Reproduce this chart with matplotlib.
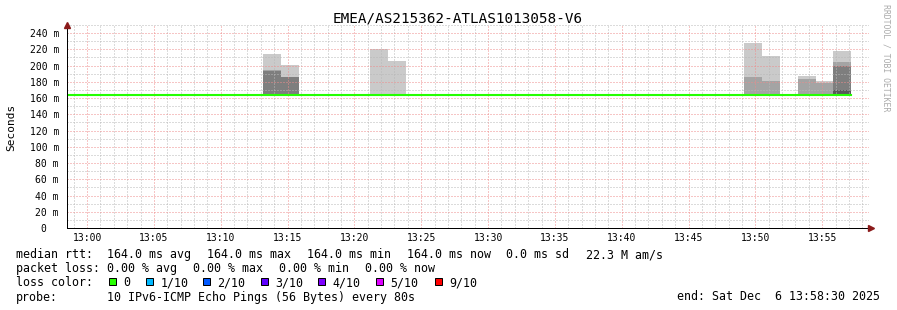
import numpy as np
import matplotlib
matplotlib.use('Agg')
import matplotlib.pyplot as plt
from matplotlib.patches import Rectangle
from matplotlib.ticker import MultipleLocator, FixedLocator, FuncFormatter

W, H = 897, 310
MONO = 'DejaVu Sans Mono'
plt.rcParams['font.family'] = MONO

# time in minutes from 13:00, one bin = 80 s, first bin starts at 12:58:30
step = 80 / 60.0
t0 = -1.5
n_bins = 45

# median rtt per bin (ms), last bin has no data yet
median = [164.0] * 44 + [np.nan]

# bins with smoke and the upper pings (sorted) of the 10 sent
smoke_bins = [11, 12, 17, 18, 38, 39, 41, 42, 43]
ping10 = [214, 201, 220, 205.5, 228, 212, 187.5, 181, 218.5]
ping9 = [195, 186, 164, 164, 186.5, 181, 183, 178, 204.5]
ping8 = [193, 186, 164, 164, 164, 164, 164, 164, 200]
ping7 = [164, 164, 164, 164, 164, 164, 164, 164, 170.5]

x_ticks = [0, 5, 10, 15, 20, 25, 30, 35, 40, 45, 50, 55]
x_labels = ['13:00', '13:05', '13:10', '13:15', '13:20', '13:25',
            '13:30', '13:35', '13:40', '13:45', '13:50', '13:55']

title = 'EMEA/AS215362-ATLAS1013058-V6'
loss_labels = ['0', '1/10', '2/10', '3/10', '4/10', '5/10', '9/10']
loss_colors = ['#26ff00', '#00b8ff', '#0059ff', '#5e00ff', '#7e00ff', '#dd00ff', '#ff0000']

fig = plt.figure(figsize=(W / 100, H / 100), dpi=100)
fig.patch.set_facecolor('white')
ax = fig.add_axes([67 / W, 82 / H, 802 / W, 203 / H])
ax.set_xlim(t0, t0 + n_bins * step)
ax.set_ylim(0, 250)

# smoke: darker the closer to the median
bx = [t0 + b * step for b in smoke_bins]
bottoms = [median[b] for b in smoke_bins]
for vals, col in [(ping10, '#cacaca'), (ping9, '#a4a4a4'), (ping8, '#7e7e7e'), (ping7, '#585858')]:
    hts = [v - m for v, m in zip(vals, bottoms)]
    ax.bar(bx, hts, width=step, bottom=bottoms, align='edge', color=col,
           linewidth=0, zorder=1, antialiased=False)

edges = t0 + step * np.arange(n_bins + 1)
ax.step(edges, median + [median[-1]], where='post', color='#26ff00', lw=1.5, zorder=3)

# grid
ax.xaxis.set_major_locator(FixedLocator(x_ticks))
ax.xaxis.set_minor_locator(MultipleLocator(1))
ax.yaxis.set_major_locator(MultipleLocator(20))
ax.yaxis.set_minor_locator(MultipleLocator(10))
ax.set_axisbelow(False)
ax.grid(which='minor', color='#b8b8b8', linestyle=(0, (1, 2)), linewidth=0.72)
ax.grid(which='major', color='#ef8c8c', linestyle=(0, (1, 2)), linewidth=0.72)
ax.set_xticklabels(x_labels)
ax.yaxis.set_major_formatter(FuncFormatter(lambda v, p: '0  ' if v == 0 else '%d m' % v))
ax.tick_params(which='both', length=0, labelsize=7)
ax.tick_params(axis='y', pad=5.8)
ax.tick_params(axis='x', pad=3.5)
ax.set_yticks([v for v in range(0, 241, 20)])

for s in ['top', 'right']:
    ax.spines[s].set_visible(False)
for s in ['left', 'bottom']:
    ax.spines[s].set_color('black')
    ax.spines[s].set_linewidth(0.72)
    ax.spines[s].set_zorder(4)

ax.plot([0], [1], marker='^', ms=4.5, color='#8b1a1a', transform=ax.transAxes, clip_on=False, zorder=5)
ax.plot([1.003], [0], marker='>', ms=4.5, color='#8b1a1a', transform=ax.transAxes, clip_on=False, zorder=5)

# texts in pixel coordinates
ov = fig.add_axes([0, 0, 1, 1])
ov.set_xlim(0, W)
ov.set_ylim(H, 0)
ov.axis('off')
ov.patch.set_visible(False)

ov.text(457.5, 23, title, ha='center', va='baseline', fontsize=10.3, color='black')
ov.text(11, 127, 'Seconds', rotation=90, ha='center', va='center', fontsize=8)
ov.text(886, 4, 'RRDTOOL / TOBI OETIKER', rotation=270, ha='center', va='top',
        fontsize=5.9, color='#aaaaaa')

fs = 8.4
row = [258, 272, 286.5, 300.5]
ov.text(16, row[0], 'median rtt:', fontsize=fs, va='baseline')
for x, s in zip([107, 207, 307, 407, 506, 586],
                ['164.0 ms avg', '164.0 ms max', '164.0 ms min', '164.0 ms now', '0.0 ms sd', '22.3 M am/s']):
    ov.text(x, row[0], s, fontsize=fs, va='baseline')

ov.text(16, row[1], 'packet loss:', fontsize=fs, va='baseline')
for x, s in zip([107, 193, 279, 365], ['0.00 % avg', '0.00 % max', '0.00 % min', '0.00 % now']):
    ov.text(x, row[1], s, fontsize=fs, va='baseline')

ov.text(16, row[2], 'loss color:', fontsize=fs, va='baseline')
for x, lab, col in zip([109, 146, 203, 261, 318, 376, 435], loss_labels, loss_colors):
    ov.add_patch(Rectangle((x, 278), 7, 7, facecolor=col, edgecolor='black', lw=0.72))
    ov.text(x + 14.5, row[2], lab, fontsize=fs, va='baseline')

ov.text(16, row[3], 'probe:', fontsize=fs, va='baseline')
ov.text(107, row[3], '10 IPv6-ICMP Echo Pings (56 Bytes) every 80s', fontsize=fs, va='baseline')
ov.text(880, row[3], 'end: Sat Dec  6 13:58:30 2025', fontsize=fs, va='baseline', ha='right')

fig.savefig('out.png', dpi=100)
